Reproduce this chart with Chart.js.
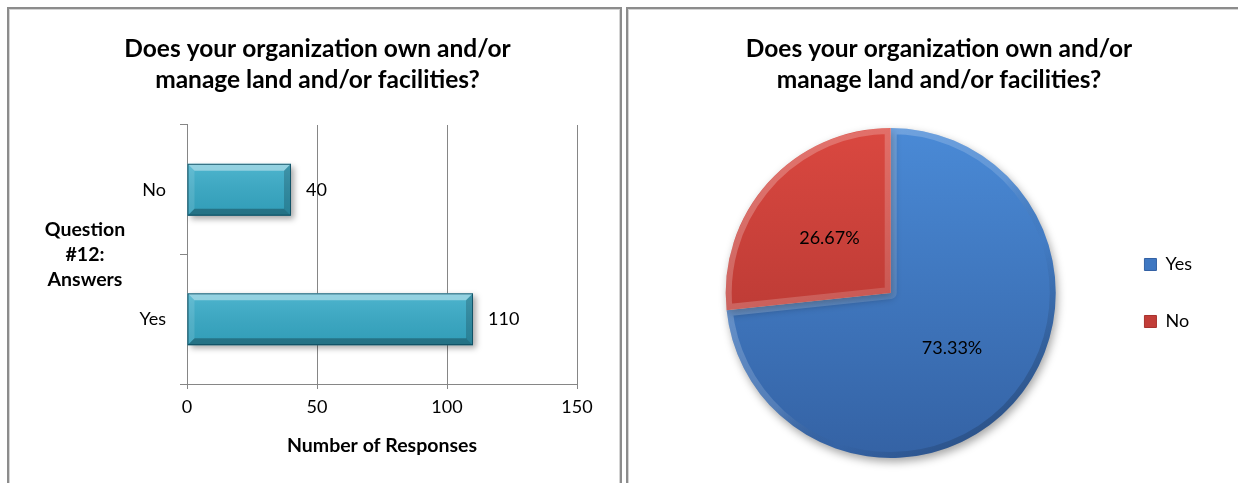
<!DOCTYPE html>
<html>
<head>
<meta charset="utf-8">
<script src="https://cdn.jsdelivr.net/npm/chart.js@4.4.1/dist/chart.umd.min.js"></script>
<style>
  html, body { margin: 0; padding: 0; background: #fff; width: 1238px; height: 483px; overflow: hidden; position: relative; }
  .box { position: absolute; top: 7px; height: 500px; box-sizing: border-box; border: 2px solid #8c8c8c; box-shadow: inset 0 0 0 1px #d4d4d4; }
  #leftBox { left: 7px; width: 615px; }
  #rightBox { left: 626px; width: 640px; }
  canvas { position: absolute; }
  #barChart { left: 9px; top: 9px; }
  #pieChart { left: 628px; top: 9px; }
</style>
</head>
<body>
<div class="box" id="leftBox"></div>
<div class="box" id="rightBox"></div>
<canvas id="barChart" width="611" height="474"></canvas>
<canvas id="pieChart" width="622" height="474"></canvas>
<script>
// data
const answers = ['Yes', 'No']
const responses = [110, 40]
const xTicks = [0, 50, 100, 150]
const titleLines = ['Does your organization own and/or', 'manage land and/or facilities?']
const yTitleLines = ['Question', '#12:', 'Answers']
const xTitle = 'Number of Responses'

const FONT = 'Lato, "Open Sans", sans-serif'
const GRID = '#868686'
const pieColors = [
  { top: '#4a8ad6', mid: '#3f78c2', bottom: '#3462a4' },
  { top: '#da4840', mid: '#c23d38', bottom: '#a8322e' }
]

const titleOpts = {
  display: true,
  text: titleLines,
  color: '#000',
  font: { family: FONT, size: 24.5, weight: 'bold', lineHeight: 1.265 }
}

// bevel look for the bars (Excel style)
const barBevel = {
  id: 'barBevel',
  beforeDatasetsDraw(chart) {
    const ctx = chart.ctx
    ctx.save()
    ctx.shadowColor = 'rgba(0,0,0,0.35)'
    ctx.shadowBlur = 6
    ctx.shadowOffsetX = 3
    ctx.shadowOffsetY = 3
  },
  afterDatasetsDraw(chart) {
    const ctx = chart.ctx
    ctx.restore()
    const b = 7
    chart.getDatasetMeta(0).data.forEach(bar => {
      const p = bar.getProps(['x', 'y', 'base', 'height'], true)
      const l = Math.min(p.base, p.x), r = Math.max(p.base, p.x)
      const t = p.y - p.height / 2, btm = p.y + p.height / 2
      ctx.save()
      const g = ctx.createLinearGradient(0, t, 0, btm)
      g.addColorStop(0, 'rgba(255,255,255,0.12)')
      g.addColorStop(1, 'rgba(0,0,0,0.08)')
      ctx.fillStyle = g
      ctx.fillRect(l, t, r - l, btm - t)
      const quad = (pts, color) => {
        ctx.beginPath()
        ctx.moveTo(pts[0][0], pts[0][1])
        pts.slice(1).forEach(q => ctx.lineTo(q[0], q[1]))
        ctx.closePath()
        ctx.fillStyle = color
        ctx.fill()
      }
      quad([[l, t], [r, t], [r - b, t + b], [l + b, t + b]], 'rgba(255,255,255,0.4)')
      quad([[l, t], [l + b, t + b], [l + b, btm - b], [l, btm]], 'rgba(255,255,255,0.12)')
      quad([[r, t], [r, btm], [r - b, btm - b], [r - b, t + b]], 'rgba(0,0,0,0.18)')
      quad([[l, btm], [l + b, btm - b], [r - b, btm - b], [r, btm]], 'rgba(0,0,0,0.28)')
      ctx.strokeStyle = 'rgba(10,70,90,0.8)'
      ctx.lineWidth = 1
      ctx.strokeRect(l + 0.5, t + 0.5, r - l - 1, btm - t - 1)
      ctx.restore()
    })
  }
}

const barValueLabels = {
  id: 'barValueLabels',
  afterDatasetsDraw(chart) {
    const ctx = chart.ctx
    const values = chart.data.datasets[0].data
    ctx.save()
    ctx.font = '18px ' + FONT
    ctx.fillStyle = '#000'
    ctx.textAlign = 'left'
    ctx.textBaseline = 'middle'
    chart.getDatasetMeta(0).data.forEach((bar, i) => {
      ctx.fillText(String(values[i]), bar.x + 15, bar.y)
    })
    ctx.restore()
  }
}

// horizontal (not rotated) y axis title, like Excel does it
const yAxisTitle = {
  id: 'yAxisTitle',
  afterDraw(chart) {
    const ctx = chart.ctx
    const area = chart.chartArea
    const mid = (area.top + area.bottom) / 2
    ctx.save()
    ctx.font = 'bold 19.5px ' + FONT
    ctx.fillStyle = '#000'
    ctx.textAlign = 'center'
    ctx.textBaseline = 'middle'
    yTitleLines.forEach((line, i) => {
      ctx.fillText(line, area.left - 102, mid + (i - 1) * 25)
    })
    ctx.restore()
  }
}

new Chart(document.getElementById('barChart'), {
  type: 'bar',
  data: {
    labels: answers,
    datasets: [{
      data: responses,
      backgroundColor: '#36abc8',
      borderWidth: 0,
      barPercentage: 0.4,
      categoryPercentage: 1
    }]
  },
  options: {
    indexAxis: 'y',
    responsive: false,
    animation: false,
    layout: { padding: { left: 49, right: 43, top: 0, bottom: 23 } },
    plugins: {
      legend: { display: false },
      tooltip: { enabled: false },
      title: { ...titleOpts, padding: { top: 25, bottom: 29 } }
    },
    scales: {
      x: {
        min: 0,
        max: 150,
        afterBuildTicks: s => { s.ticks = xTicks.map(v => ({ value: v })) },
        grid: { color: GRID, tickLength: 5 },
        border: { color: GRID },
        ticks: { color: '#000', font: { family: FONT, size: 18 }, padding: 7 },
        title: {
          display: true,
          text: xTitle,
          color: '#000',
          font: { family: FONT, size: 19.5, weight: 'bold' },
          padding: { top: 9, bottom: 3 }
        }
      },
      y: {
        reverse: true,
        afterFit: s => { s.width = 129 },
        grid: { offset: true, drawOnChartArea: false, tickLength: 7, color: GRID },
        border: { color: GRID },
        ticks: { color: '#000', font: { family: FONT, size: 18 }, padding: 14 }
      }
    }
  },
  plugins: [barBevel, barValueLabels, yAxisTitle]
})

function pieFill(c) {
  const p = pieColors[c.dataIndex]
  const area = c.chart.chartArea
  if (!area) return p.mid
  const g = c.chart.ctx.createLinearGradient(0, area.top, 0, area.bottom)
  g.addColorStop(0, p.top)
  g.addColorStop(1, p.bottom)
  return g
}

const pieLook = {
  id: 'pieLook',
  beforeDatasetsDraw(chart) {
    const ctx = chart.ctx
    ctx.save()
    ctx.shadowColor = 'rgba(0,0,0,0.35)'
    ctx.shadowBlur = 8
    ctx.shadowOffsetX = 2
    ctx.shadowOffsetY = 4
  },
  afterDatasetsDraw(chart) {
    const ctx = chart.ctx
    ctx.restore()
    const arcs = chart.getDatasetMeta(0).data
    const values = chart.data.datasets[0].data
    const total = values.reduce((a, v) => a + v, 0)
    arcs.forEach(arc => {
      const p = arc.getProps(['x', 'y', 'startAngle', 'endAngle', 'outerRadius'], true)
      const r = p.outerRadius
      ctx.save()
      ctx.beginPath()
      ctx.moveTo(p.x, p.y)
      ctx.arc(p.x, p.y, r, p.startAngle, p.endAngle)
      ctx.closePath()
      ctx.clip()
      const g = ctx.createLinearGradient(p.x - r, p.y - r, p.x + r, p.y + r)
      g.addColorStop(0, 'rgba(255,255,255,0.28)')
      g.addColorStop(0.5, 'rgba(255,255,255,0.14)')
      g.addColorStop(0.65, 'rgba(0,0,0,0)')
      g.addColorStop(1, 'rgba(0,0,0,0.3)')
      ctx.strokeStyle = g
      ctx.lineWidth = 12
      ctx.lineJoin = 'round'
      ctx.stroke()
      ctx.restore()
    })
    ctx.save()
    ctx.font = '18px ' + FONT
    ctx.fillStyle = '#000'
    ctx.textAlign = 'center'
    ctx.textBaseline = 'middle'
    arcs.forEach((arc, i) => {
      const c = arc.getCenterPoint()
      ctx.fillText((values[i] / total * 100).toFixed(2) + '%', c.x, c.y)
    })
    ctx.restore()
  }
}

new Chart(document.getElementById('pieChart'), {
  type: 'pie',
  data: {
    labels: answers,
    datasets: [{ data: responses, backgroundColor: pieFill, borderWidth: 0 }]
  },
  options: {
    responsive: false,
    animation: false,
    layout: { padding: { left: 48, right: 48, top: 0, bottom: 25 } },
    plugins: {
      tooltip: { enabled: false },
      title: { ...titleOpts, padding: { top: 25, bottom: 32 } },
      legend: {
        position: 'right',
        fullSize: false,
        labels: {
          boxWidth: 12,
          boxHeight: 12,
          padding: 39,
          color: '#000',
          font: { family: FONT, size: 18 },
          generateLabels: chart => {
            const items = Chart.overrides.pie.plugins.legend.labels.generateLabels(chart)
            items.forEach((it, i) => {
              it.fillStyle = pieColors[i].mid
              it.strokeStyle = pieColors[i].bottom
              it.lineWidth = 1
            })
            return items
          }
        }
      }
    }
  },
  plugins: [pieLook]
})
</script>
</body>
</html>
